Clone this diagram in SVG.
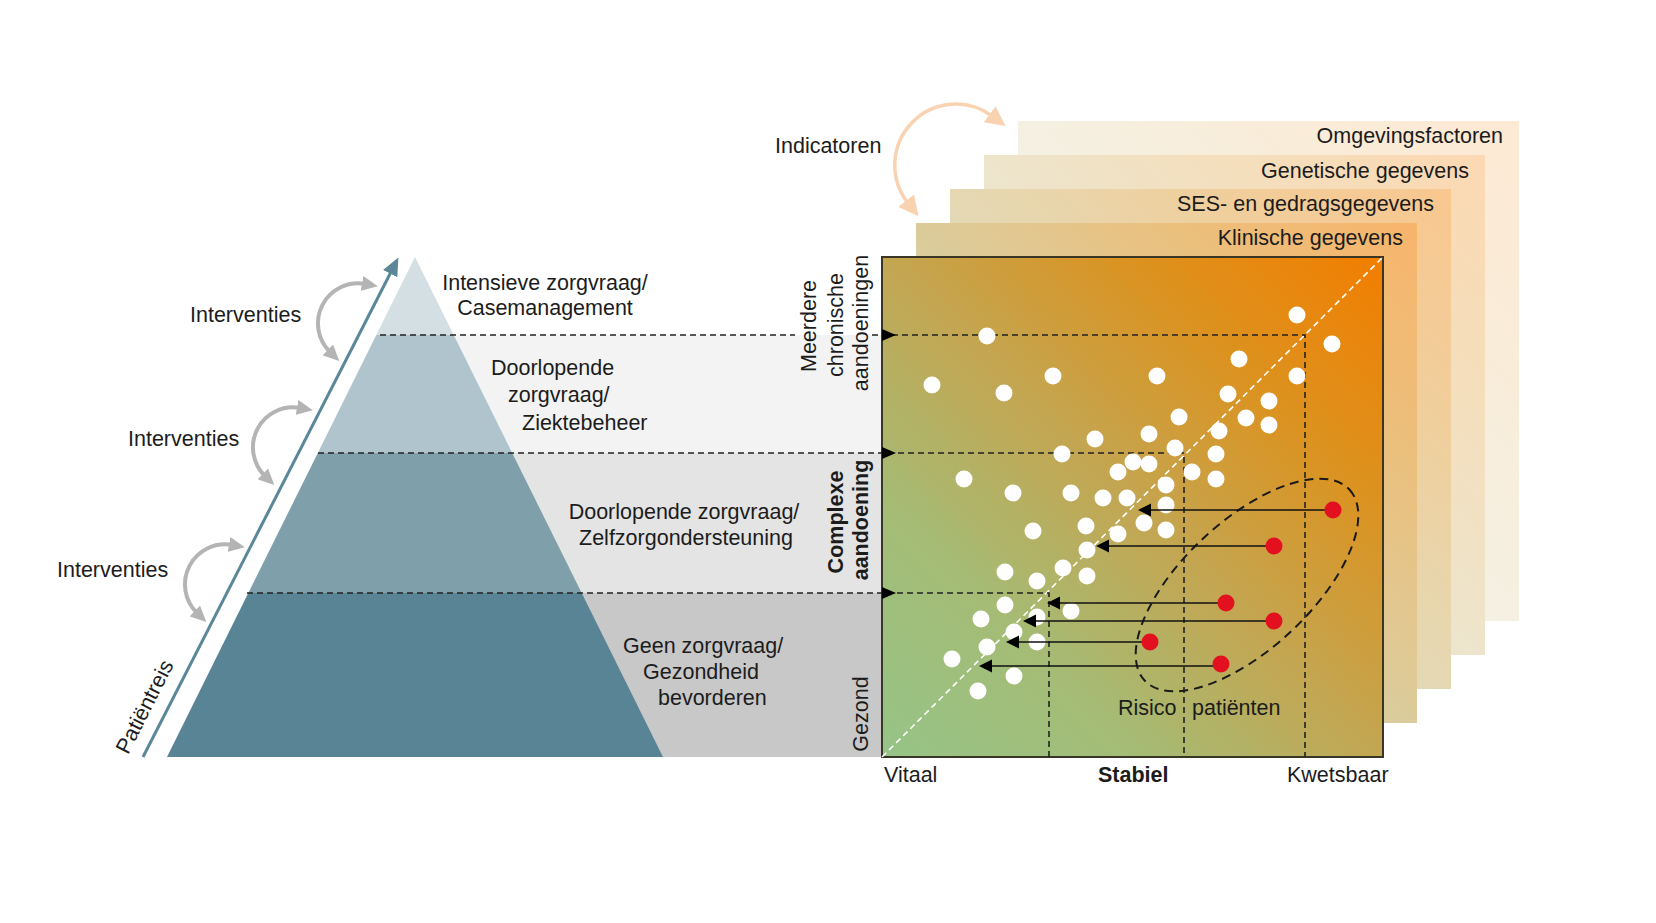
<svg xmlns="http://www.w3.org/2000/svg" width="1656" height="923" viewBox="0 0 1656 923">
<defs>
<style>
text{font-family:"Liberation Sans",Arial,sans-serif;font-size:21.5px;fill:#1c1c1c}
.b{font-weight:bold}
.dash{stroke:#222;stroke-width:1.6;stroke-dasharray:6 4;fill:none}
.garc{fill:none;stroke:#b4b4b4;stroke-width:4}
.dot{fill:#fff}
.red{fill:#e3101f}
.rl{stroke:#111;stroke-width:1.6}
.ah{fill:#000}
</style>
<linearGradient id="gm" x1="0" y1="1" x2="1" y2="0">
<stop offset="0" stop-color="#96c487"/>
<stop offset="0.25" stop-color="#a4bc76"/>
<stop offset="0.5" stop-color="#c3a652"/>
<stop offset="0.75" stop-color="#dc921f"/>
<stop offset="1" stop-color="#f27e00"/>
</linearGradient>
<marker id="mg" viewBox="0 0 16 15" markerWidth="16" markerHeight="15" refX="3" refY="7.5" orient="auto-start-reverse" markerUnits="userSpaceOnUse">
<path d="M0,0 L16,7.5 L0,15 z" fill="#b4b4b4"/>
</marker>
<marker id="mp" viewBox="0 0 20 20" markerWidth="20" markerHeight="20" refX="3" refY="10" orient="auto-start-reverse" markerUnits="userSpaceOnUse">
<path d="M0,0 L20,10 L0,20 z" fill="#f9d3b1"/>
</marker>
<marker id="mb" viewBox="0 0 18 16" markerWidth="18" markerHeight="16" refX="4" refY="8" orient="auto" markerUnits="userSpaceOnUse">
<path d="M0,0 L18,8 L0,16 z" fill="#5b8799"/>
</marker>
</defs>
<rect width="1656" height="923" fill="#fff"/>

<!-- background bands -->
<g id="bands">
<rect x="415" y="335" width="467" height="118" fill="#f3f3f3"/>
<rect x="415" y="453" width="467" height="140" fill="#e4e4e4"/>
<rect x="415" y="593" width="467" height="164" fill="#c8c8c8"/>
</g>

<!-- pyramid -->
<g id="pyramid-level-1"><polygon points="415,257 453.7,335 376.3,335" fill="#d3dfe3"/></g>
<g id="pyramid-level-2"><polygon points="376.3,335 453.7,335 512.2,453 317.8,453" fill="#afc4cc"/></g>
<g id="pyramid-level-3"><polygon points="317.8,453 512.2,453 581.7,593 248.3,593" fill="#7fa0ab"/></g>
<g id="pyramid-level-4"><polygon points="248.3,593 581.7,593 663,757 167,757" fill="#588495"/></g>

<!-- indicator layers -->
<g id="layer-omgeving">
<rect x="1018" y="121" width="501" height="500" fill="#fff"/>
<rect x="1018" y="121" width="501" height="500" fill="url(#gm)" opacity="0.17"/>
<text x="1503" y="143" text-anchor="end">Omgevingsfactoren</text>
</g>
<g id="layer-genetisch">
<rect x="984" y="155" width="501" height="500" fill="#fff"/>
<rect x="984" y="155" width="501" height="500" fill="url(#gm)" opacity="0.3"/>
<text x="1469" y="178" text-anchor="end">Genetische gegevens</text>
</g>
<g id="layer-ses">
<rect x="950" y="189" width="501" height="500" fill="#fff"/>
<rect x="950" y="189" width="501" height="500" fill="url(#gm)" opacity="0.44"/>
<text x="1434" y="211" text-anchor="end">SES- en gedragsgegevens</text>
</g>
<g id="layer-klinisch">
<rect x="916" y="223" width="501" height="500" fill="#fff"/>
<rect x="916" y="223" width="501" height="500" fill="url(#gm)" opacity="0.58"/>
<text x="1403" y="245" text-anchor="end">Klinische gegevens</text>
</g>

<!-- main chart -->
<g id="chart">
<rect x="882" y="257" width="501" height="500" fill="url(#gm)" stroke="#3a3626" stroke-width="2"/>
<line x1="882" y1="757" x2="1383" y2="257" stroke="#fff" stroke-width="1.6" stroke-dasharray="6 4"/>
</g>

<!-- connectors -->
<g id="connectors">
<path class="dash" d="M380,335 H795 M872,335 H1305 V757"/>
<path class="dash" d="M318,453 H1184 V757"/>
<path class="dash" d="M247,593 H1049 V757"/>
<polygon class="ah" points="882,329 896,335 882,341"/>
<polygon class="ah" points="882,447 896,453 882,459"/>
<polygon class="ah" points="882,587 896,593 882,599"/>
<ellipse cx="1247" cy="585" rx="140" ry="64" transform="rotate(-43 1247 585)" fill="none" stroke="#1a1a1a" stroke-width="2" stroke-dasharray="9 6"/>
<path class="garc" d="M365,284 A40,40 0 0 0 330,352" marker-start="url(#mg)" marker-end="url(#mg)"/>
<path class="garc" transform="translate(-65,124)" d="M365,284 A40,40 0 0 0 330,352" marker-start="url(#mg)" marker-end="url(#mg)"/>
<path class="garc" transform="translate(-133,261)" d="M365,284 A40,40 0 0 0 330,352" marker-start="url(#mg)" marker-end="url(#mg)"/>
<path d="M992,116 A61,61 0 0 0 908,203" fill="none" stroke="#f9d3b1" stroke-width="3.5" marker-start="url(#mp)" marker-end="url(#mp)"/>
<line x1="143" y1="757" x2="392" y2="270" stroke="#5b8799" stroke-width="3" marker-end="url(#mb)"/>
</g>

<!-- white dots -->
<g id="dots">
<circle class="dot" cx="987" cy="336" r="8.5"/>
<circle class="dot" cx="1297" cy="315" r="8.5"/>
<circle class="dot" cx="1332" cy="344" r="8.5"/>
<circle class="dot" cx="1239" cy="359" r="8.5"/>
<circle class="dot" cx="1297" cy="376" r="8.5"/>
<circle class="dot" cx="932" cy="385" r="8.5"/>
<circle class="dot" cx="1004" cy="393" r="8.5"/>
<circle class="dot" cx="1053" cy="376" r="8.5"/>
<circle class="dot" cx="1157" cy="376" r="8.5"/>
<circle class="dot" cx="1228" cy="394" r="8.5"/>
<circle class="dot" cx="1269" cy="401" r="8.5"/>
<circle class="dot" cx="1246" cy="418" r="8.5"/>
<circle class="dot" cx="1269" cy="425" r="8.5"/>
<circle class="dot" cx="1179" cy="417" r="8.5"/>
<circle class="dot" cx="1149" cy="434" r="8.5"/>
<circle class="dot" cx="1095" cy="439" r="8.5"/>
<circle class="dot" cx="1219" cy="431" r="8.5"/>
<circle class="dot" cx="1175" cy="448" r="8.5"/>
<circle class="dot" cx="1062" cy="454" r="8.5"/>
<circle class="dot" cx="1216" cy="454" r="8.5"/>
<circle class="dot" cx="1133" cy="462" r="8.5"/>
<circle class="dot" cx="1149" cy="464" r="8.5"/>
<circle class="dot" cx="1118" cy="472" r="8.5"/>
<circle class="dot" cx="1192" cy="472" r="8.5"/>
<circle class="dot" cx="1216" cy="479" r="8.5"/>
<circle class="dot" cx="964" cy="479" r="8.5"/>
<circle class="dot" cx="1166" cy="485" r="8.5"/>
<circle class="dot" cx="1013" cy="493" r="8.5"/>
<circle class="dot" cx="1071" cy="493" r="8.5"/>
<circle class="dot" cx="1103" cy="498" r="8.5"/>
<circle class="dot" cx="1127" cy="498" r="8.5"/>
<circle class="dot" cx="1166" cy="505" r="8.5"/>
<circle class="dot" cx="1086" cy="526" r="8.5"/>
<circle class="dot" cx="1144" cy="523" r="8.5"/>
<circle class="dot" cx="1166" cy="530" r="8.5"/>
<circle class="dot" cx="1033" cy="531" r="8.5"/>
<circle class="dot" cx="1118" cy="534" r="8.5"/>
<circle class="dot" cx="1087" cy="550" r="8.5"/>
<circle class="dot" cx="1063" cy="568" r="8.5"/>
<circle class="dot" cx="1087" cy="576" r="8.5"/>
<circle class="dot" cx="1005" cy="572" r="8.5"/>
<circle class="dot" cx="1037" cy="581" r="8.5"/>
<circle class="dot" cx="1005" cy="605" r="8.5"/>
<circle class="dot" cx="1071" cy="611" r="8.5"/>
<circle class="dot" cx="981" cy="619" r="8.5"/>
<circle class="dot" cx="1037" cy="617" r="8.5"/>
<circle class="dot" cx="1014" cy="632" r="8.5"/>
<circle class="dot" cx="1037" cy="642" r="8.5"/>
<circle class="dot" cx="987" cy="647" r="8.5"/>
<circle class="dot" cx="952" cy="659" r="8.5"/>
<circle class="dot" cx="1014" cy="676" r="8.5"/>
<circle class="dot" cx="978" cy="691" r="8.5"/>
</g>

<!-- risk patient arrows -->
<g id="risk-arrows">
<line class="rl" x1="1333" y1="510" x2="1148" y2="510"/><polygon class="ah" points="1138,510 1151,503.5 1151,516.5"/>
<line class="rl" x1="1274" y1="546" x2="1106" y2="546"/><polygon class="ah" points="1096,546 1109,539.5 1109,552.5"/>
<line class="rl" x1="1226" y1="603" x2="1057" y2="603"/><polygon class="ah" points="1047,603 1060,596.5 1060,609.5"/>
<line class="rl" x1="1274" y1="621" x2="1033" y2="621"/><polygon class="ah" points="1023,621 1036,614.5 1036,627.5"/>
<line class="rl" x1="1150" y1="642" x2="1016" y2="642"/><polygon class="ah" points="1006,642 1019,635.5 1019,648.5"/>
<line class="rl" x1="1221" y1="666" x2="989" y2="666"/><polygon class="ah" points="979,666 992,659.5 992,672.5"/>
</g>
<g id="risk-patients">
<circle class="red" cx="1333" cy="510" r="8.5"/>
<circle class="red" cx="1274" cy="546" r="8.5"/>
<circle class="red" cx="1226" cy="603" r="8.5"/>
<circle class="red" cx="1274" cy="621" r="8.5"/>
<circle class="red" cx="1150" cy="642" r="8.5"/>
<circle class="red" cx="1221" cy="664" r="8.5"/>
</g>

<!-- labels -->
<g id="labels-pyramid">
<text x="545" y="290" text-anchor="middle">Intensieve zorgvraag/</text>
<text x="545" y="315" text-anchor="middle">Casemanagement</text>
<text x="491" y="375">Doorlopende</text>
<text x="508" y="402">zorgvraag/</text>
<text x="522" y="430">Ziektebeheer</text>
<text x="684" y="519" text-anchor="middle">Doorlopende zorgvraag/</text>
<text x="686" y="545" text-anchor="middle">Zelfzorgondersteuning</text>
<text x="623" y="653">Geen zorgvraag/</text>
<text x="643" y="679">Gezondheid</text>
<text x="658" y="705">bevorderen</text>
</g>
<g id="labels-interventies">
<text x="190" y="322">Interventies</text>
<text x="128" y="446">Interventies</text>
<text x="57" y="577">Interventies</text>
<text transform="translate(151,710) rotate(-63)" text-anchor="middle">Patiëntreis</text>
</g>
<g id="labels-axis-y">
<text transform="translate(816,326) rotate(-90)" text-anchor="middle">Meerdere</text>
<text transform="translate(843,325) rotate(-90)" text-anchor="middle">chronische</text>
<text transform="translate(868,323) rotate(-90)" text-anchor="middle">aandoeningen</text>
<text class="b" transform="translate(843,522) rotate(-90)" text-anchor="middle">Complexe</text>
<text class="b" transform="translate(868,520) rotate(-90)" text-anchor="middle">aandoening</text>
<text transform="translate(868,714) rotate(-90)" text-anchor="middle">Gezond</text>
</g>
<g id="labels-axis-x">
<text x="884" y="782">Vitaal</text>
<text class="b" x="1098" y="782">Stabiel</text>
<text x="1287" y="782">Kwetsbaar</text>
<text x="1118" y="715">Risico <tspan x="1192">patiënten</tspan></text>
<text x="775" y="153">Indicatoren</text>
</g>
</svg>
